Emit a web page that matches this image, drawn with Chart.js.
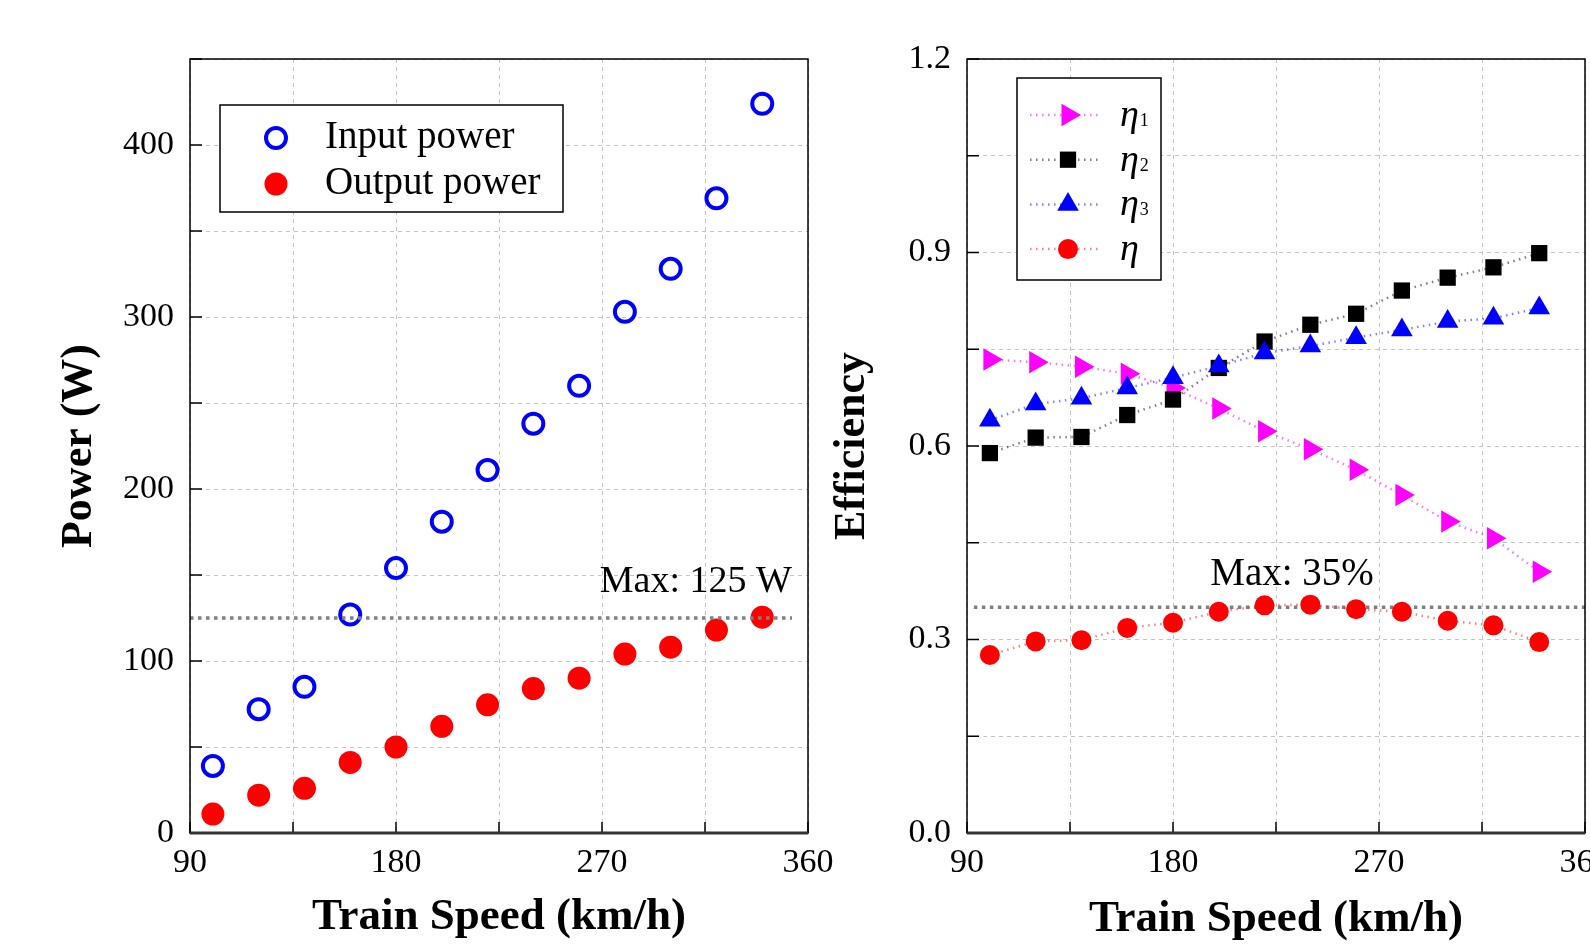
<!DOCTYPE html>
<html>
<head>
<meta charset="utf-8">
<title>Power and efficiency vs train speed</title>
<script src="https://cdn.jsdelivr.net/npm/chart.js@4.4.1/dist/chart.umd.min.js"></script>
<style>
  html, body { margin: 0; padding: 0; background: #fff; overflow: hidden; }
  body { width: 1590px; height: 946px; position: relative; }
  canvas { position: absolute; top: 0; }
  #powerChart { left: 0; }
  #effChart { left: 800px; }
</style>
</head>
<body>
<canvas id="powerChart" width="860" height="946"></canvas>
<canvas id="effChart" width="890" height="946"></canvas>
<script>
// train speed (km/h)
let speeds = [100, 120, 140, 160, 180, 200, 220, 240, 260, 280, 300, 320, 340];

// power (W)
let inputPower  = [39, 72, 85, 127, 154, 181, 211, 238, 260, 303, 328, 369, 424];
let outputPower = [11, 22, 26, 41, 50, 62, 74.5, 84, 90, 104, 108, 118, 125.5];
let maxPower = 125;
let maxPowerSpan = [90, 353];

// efficiency
let eta1 = [0.734, 0.730, 0.723, 0.712, 0.690, 0.658, 0.623, 0.595, 0.563, 0.524, 0.483, 0.457, 0.405];
let eta2 = [0.589, 0.613, 0.614, 0.648, 0.672, 0.721, 0.762, 0.788, 0.805, 0.841, 0.861, 0.877, 0.899];
let eta3 = [0.640, 0.665, 0.674, 0.690, 0.706, 0.724, 0.744, 0.755, 0.768, 0.780, 0.793, 0.798, 0.814];
let eta  = [0.276, 0.297, 0.299, 0.318, 0.326, 0.343, 0.353, 0.354, 0.347, 0.343, 0.329, 0.322, 0.296];
let maxEff = 0.35;
let maxEffSpan = [93, 360];

// labelled ticks
let speedTicks = [90, 180, 270, 360];
let powerTicks = [0, 100, 200, 300, 400];
let effTicks   = [0, 0.3, 0.6, 0.9, 1.2];

const serif = "'Liberation Serif', 'Times New Roman', serif";
Chart.defaults.font.family = serif;
Chart.defaults.color = '#000';

const pts = (ys) => speeds.map((s, i) => ({ x: s, y: ys[i] }));
const hline = (span, v) => span.map(s => ({ x: s, y: v }));
const hasTick = (list, v) => list.some(t => Math.abs(t - v) < 1e-6);

function drawMarker(ctx, d, x, y) {
  const r = d.pointRadius;
  ctx.save();
  ctx.translate(x, y);
  ctx.rotate((d.pointRotation || 0) * Math.PI / 180);
  ctx.beginPath();
  if (d.pointStyle === 'rect') {
    const s = r * Math.SQRT1_2;
    ctx.rect(-s, -s, 2 * s, 2 * s);
  } else if (d.pointStyle === 'triangle') {
    ctx.moveTo(0, -r);
    ctx.lineTo(r * 0.866, r / 2);
    ctx.lineTo(-r * 0.866, r / 2);
    ctx.closePath();
  } else {
    ctx.arc(0, 0, r, 0, Math.PI * 2);
  }
  ctx.fillStyle = d.pointBackgroundColor;
  ctx.fill();
  if (d.pointBorderWidth) {
    ctx.lineWidth = d.pointBorderWidth;
    ctx.strokeStyle = d.pointBorderColor;
    ctx.stroke();
  }
  ctx.restore();
}

// box frame + inward tick marks
const frame = {
  id: 'frame',
  afterDraw(chart) {
    const { ctx, chartArea: a, scales: { x, y } } = chart;
    ctx.save();
    ctx.strokeStyle = '#000';
    ctx.lineWidth = 1.5;
    ctx.strokeRect(a.left, a.top, a.right - a.left, a.bottom - a.top);
    ctx.beginPath();
    y.ticks.forEach(t => {
      const py = y.getPixelForValue(t.value);
      ctx.moveTo(a.left, py); ctx.lineTo(a.left + 12, py);
    });
    x.ticks.forEach(t => {
      const px = x.getPixelForValue(t.value);
      ctx.moveTo(px, a.bottom); ctx.lineTo(px, a.bottom - 11);
    });
    ctx.stroke();
    ctx.lineWidth = 3;
    ctx.strokeStyle = '#333';
    ctx.beginPath();
    ctx.moveTo(a.left, a.bottom); ctx.lineTo(a.right, a.bottom);
    ctx.stroke();
    ctx.restore();
  }
};

// legend in a framed box inside the plot
const boxLegend = {
  id: 'boxLegend',
  afterDraw(chart, args, o) {
    const { ctx, chartArea: a } = chart;
    const bx = a.left + o.dx, by = a.top + o.dy;
    ctx.save();
    ctx.fillStyle = '#fff';
    ctx.fillRect(bx, by, o.w, o.h);
    ctx.lineWidth = 1.5;
    ctx.strokeStyle = '#000';
    ctx.strokeRect(bx, by, o.w, o.h);
    chart.data.datasets.filter(d => !d.skipLegend).forEach((d, i) => {
      const cy = by + o.rowTop + i * o.rowGap;
      if (o.lineTo) {
        ctx.save();
        ctx.strokeStyle = d.borderColor;
        ctx.lineWidth = d.borderWidth;
        ctx.setLineDash(d.borderDash || []);
        ctx.beginPath();
        ctx.moveTo(bx + o.lineFrom, cy);
        ctx.lineTo(bx + o.lineTo, cy);
        ctx.stroke();
        ctx.restore();
      }
      drawMarker(ctx, d, bx + o.markerX, cy);
      const m = d.label.match(/^(\D+?)(\d*)$/);
      ctx.fillStyle = '#000';
      ctx.textAlign = 'left';
      ctx.textBaseline = 'alphabetic';
      ctx.font = o.font;
      ctx.fillText(m[1], bx + o.textX, cy + o.baseline);
      if (m[2]) {
        const w = ctx.measureText(m[1]).width;
        ctx.font = o.subFont;
        ctx.fillText(m[2], bx + o.textX + w + 1, cy + o.baseline);
      }
    });
    ctx.restore();
  }
};

// "Max" note, placed in data units
const note = {
  id: 'note',
  afterDatasetsDraw(chart, args, o) {
    const { ctx, scales: { x, y } } = chart;
    ctx.save();
    ctx.font = o.font;
    ctx.fillStyle = '#000';
    ctx.textAlign = 'center';
    ctx.textBaseline = 'middle';
    ctx.fillText(o.text, x.getPixelForValue(o.x), y.getPixelForValue(o.y));
    ctx.restore();
  }
};

function xAxis(titlePad) {
  return {
    type: 'linear', min: 90, max: 360,
    ticks: {
      stepSize: 45, autoSkip: false, maxRotation: 0, padding: 10,
      font: { size: 34 },
      callback: v => hasTick(speedTicks, v) ? String(v) : ''
    },
    grid: { color: '#c4c4c4', lineWidth: 1, drawTicks: false },
    border: { display: false, dash: [4, 4] },
    title: {
      display: true, text: 'Train Speed (km/h)',
      font: { size: 45, weight: 'bold' },
      padding: { top: 0, bottom: titlePad }
    },
    afterFit: s => { s.height = 113; }
  };
}

function yAxis(opts) {
  return {
    min: opts.min, max: opts.max,
    ticks: {
      stepSize: opts.step, autoSkip: false, padding: 16,
      font: { size: 34 },
      callback: opts.label
    },
    grid: { color: '#c4c4c4', lineWidth: 1, drawTicks: false },
    border: { display: false, dash: [4, 4] },
    title: {
      display: true, text: opts.title,
      font: { size: 44, weight: 'bold' },
      padding: { top: opts.titlePad, bottom: 0 }
    },
    afterFit: s => { s.width = opts.width; }
  };
}

new Chart(document.getElementById('powerChart'), {
  type: 'scatter',
  data: {
    datasets: [
      {
        label: 'Max', skipLegend: true, type: 'line', order: 0,
        data: hline(maxPowerSpan, maxPower),
        borderColor: '#808080', borderWidth: 3.5, borderDash: [3.5, 4.5],
        pointRadius: 0, fill: false
      },
      {
        label: 'Input power', data: pts(inputPower), order: 1,
        pointStyle: 'circle', pointRadius: 10, pointBorderWidth: 4,
        pointBorderColor: '#0000ff', pointBackgroundColor: 'rgba(255,255,255,0)',
        borderColor: '#0000ff', backgroundColor: 'rgba(255,255,255,0)'
      },
      {
        label: 'Output power', data: pts(outputPower), order: 2,
        pointStyle: 'circle', pointRadius: 11.5, pointBorderWidth: 0,
        pointBorderColor: '#ff0000', pointBackgroundColor: '#ff0000',
        borderColor: '#ff0000', backgroundColor: '#ff0000'
      }
    ]
  },
  options: {
    responsive: false, animation: false, events: [],
    layout: { padding: { top: 59, right: 52, bottom: 0, left: 0 } },
    scales: {
      x: xAxis(2),
      y: yAxis({
        min: 0, max: 450, step: 50, width: 190, titlePad: 53, title: 'Power (W)',
        label: v => hasTick(powerTicks, v) ? String(v) : ''
      })
    },
    plugins: {
      legend: { display: false },
      tooltip: { enabled: false },
      note: { text: 'Max: 125 W', x: 311, y: 146, font: '38px ' + serif },
      boxLegend: {
        dx: 30, dy: 46, w: 343, h: 107,
        rowTop: 33, rowGap: 46, markerX: 56, textX: 105, baseline: 10,
        font: '39px ' + serif, subFont: '20px ' + serif
      }
    }
  },
  plugins: [frame, note, boxLegend]
});

const dotted = [1.5, 4.5];

new Chart(document.getElementById('effChart'), {
  type: 'scatter',
  data: {
    datasets: [
      {
        label: 'η1', data: pts(eta1), showLine: true, order: 4,
        borderColor: 'rgba(255,0,255,0.55)', borderWidth: 2.5, borderDash: dotted,
        pointStyle: 'triangle', pointRotation: 90, pointRadius: 13, pointBorderWidth: 0,
        pointBackgroundColor: '#ff00ff', pointBorderColor: '#ff00ff'
      },
      {
        label: 'η2', data: pts(eta2), showLine: true, order: 3,
        borderColor: 'rgba(0,0,0,0.5)', borderWidth: 2.5, borderDash: dotted,
        pointStyle: 'rect', pointRadius: 11.5, pointBorderWidth: 0,
        pointBackgroundColor: '#000000', pointBorderColor: '#000000'
      },
      {
        label: 'η3', data: pts(eta3), showLine: true, order: 1,
        borderColor: 'rgba(0,0,255,0.5)', borderWidth: 2.5, borderDash: dotted,
        pointStyle: 'triangle', pointRadius: 12.5, pointBorderWidth: 0,
        pointBackgroundColor: '#0000ff', pointBorderColor: '#0000ff'
      },
      {
        label: 'η', data: pts(eta), showLine: true, order: 2,
        borderColor: 'rgba(255,0,0,0.5)', borderWidth: 2.5, borderDash: dotted,
        pointStyle: 'circle', pointRadius: 10, pointBorderWidth: 0,
        pointBackgroundColor: '#ff0000', pointBorderColor: '#ff0000'
      },
      {
        label: 'Max', skipLegend: true, type: 'line', order: 5,
        data: hline(maxEffSpan, maxEff),
        borderColor: '#808080', borderWidth: 3.5, borderDash: [3.5, 4.5],
        pointRadius: 0, fill: false
      }
    ]
  },
  options: {
    responsive: false, animation: false, events: [],
    layout: { padding: { top: 59, right: 105, bottom: 0, left: 0 } },
    scales: {
      x: xAxis(0),
      y: yAxis({
        min: 0, max: 1.2, step: 0.15, width: 167, titlePad: 26, title: 'Efficiency',
        label: v => hasTick(effTicks, v) ? v.toFixed(1) : ''
      })
    },
    plugins: {
      legend: { display: false },
      tooltip: { enabled: false },
      note: { text: 'Max: 35%', x: 232, y: 0.40, font: '39px ' + serif },
      boxLegend: {
        dx: 50, dy: 19, w: 144, h: 202,
        rowTop: 37, rowGap: 44.7, markerX: 51, textX: 103, baseline: 11,
        lineFrom: 13, lineTo: 85,
        font: 'italic 38px ' + serif, subFont: '18px ' + serif
      }
    }
  },
  plugins: [frame, note, boxLegend]
});
</script>
</body>
</html>
